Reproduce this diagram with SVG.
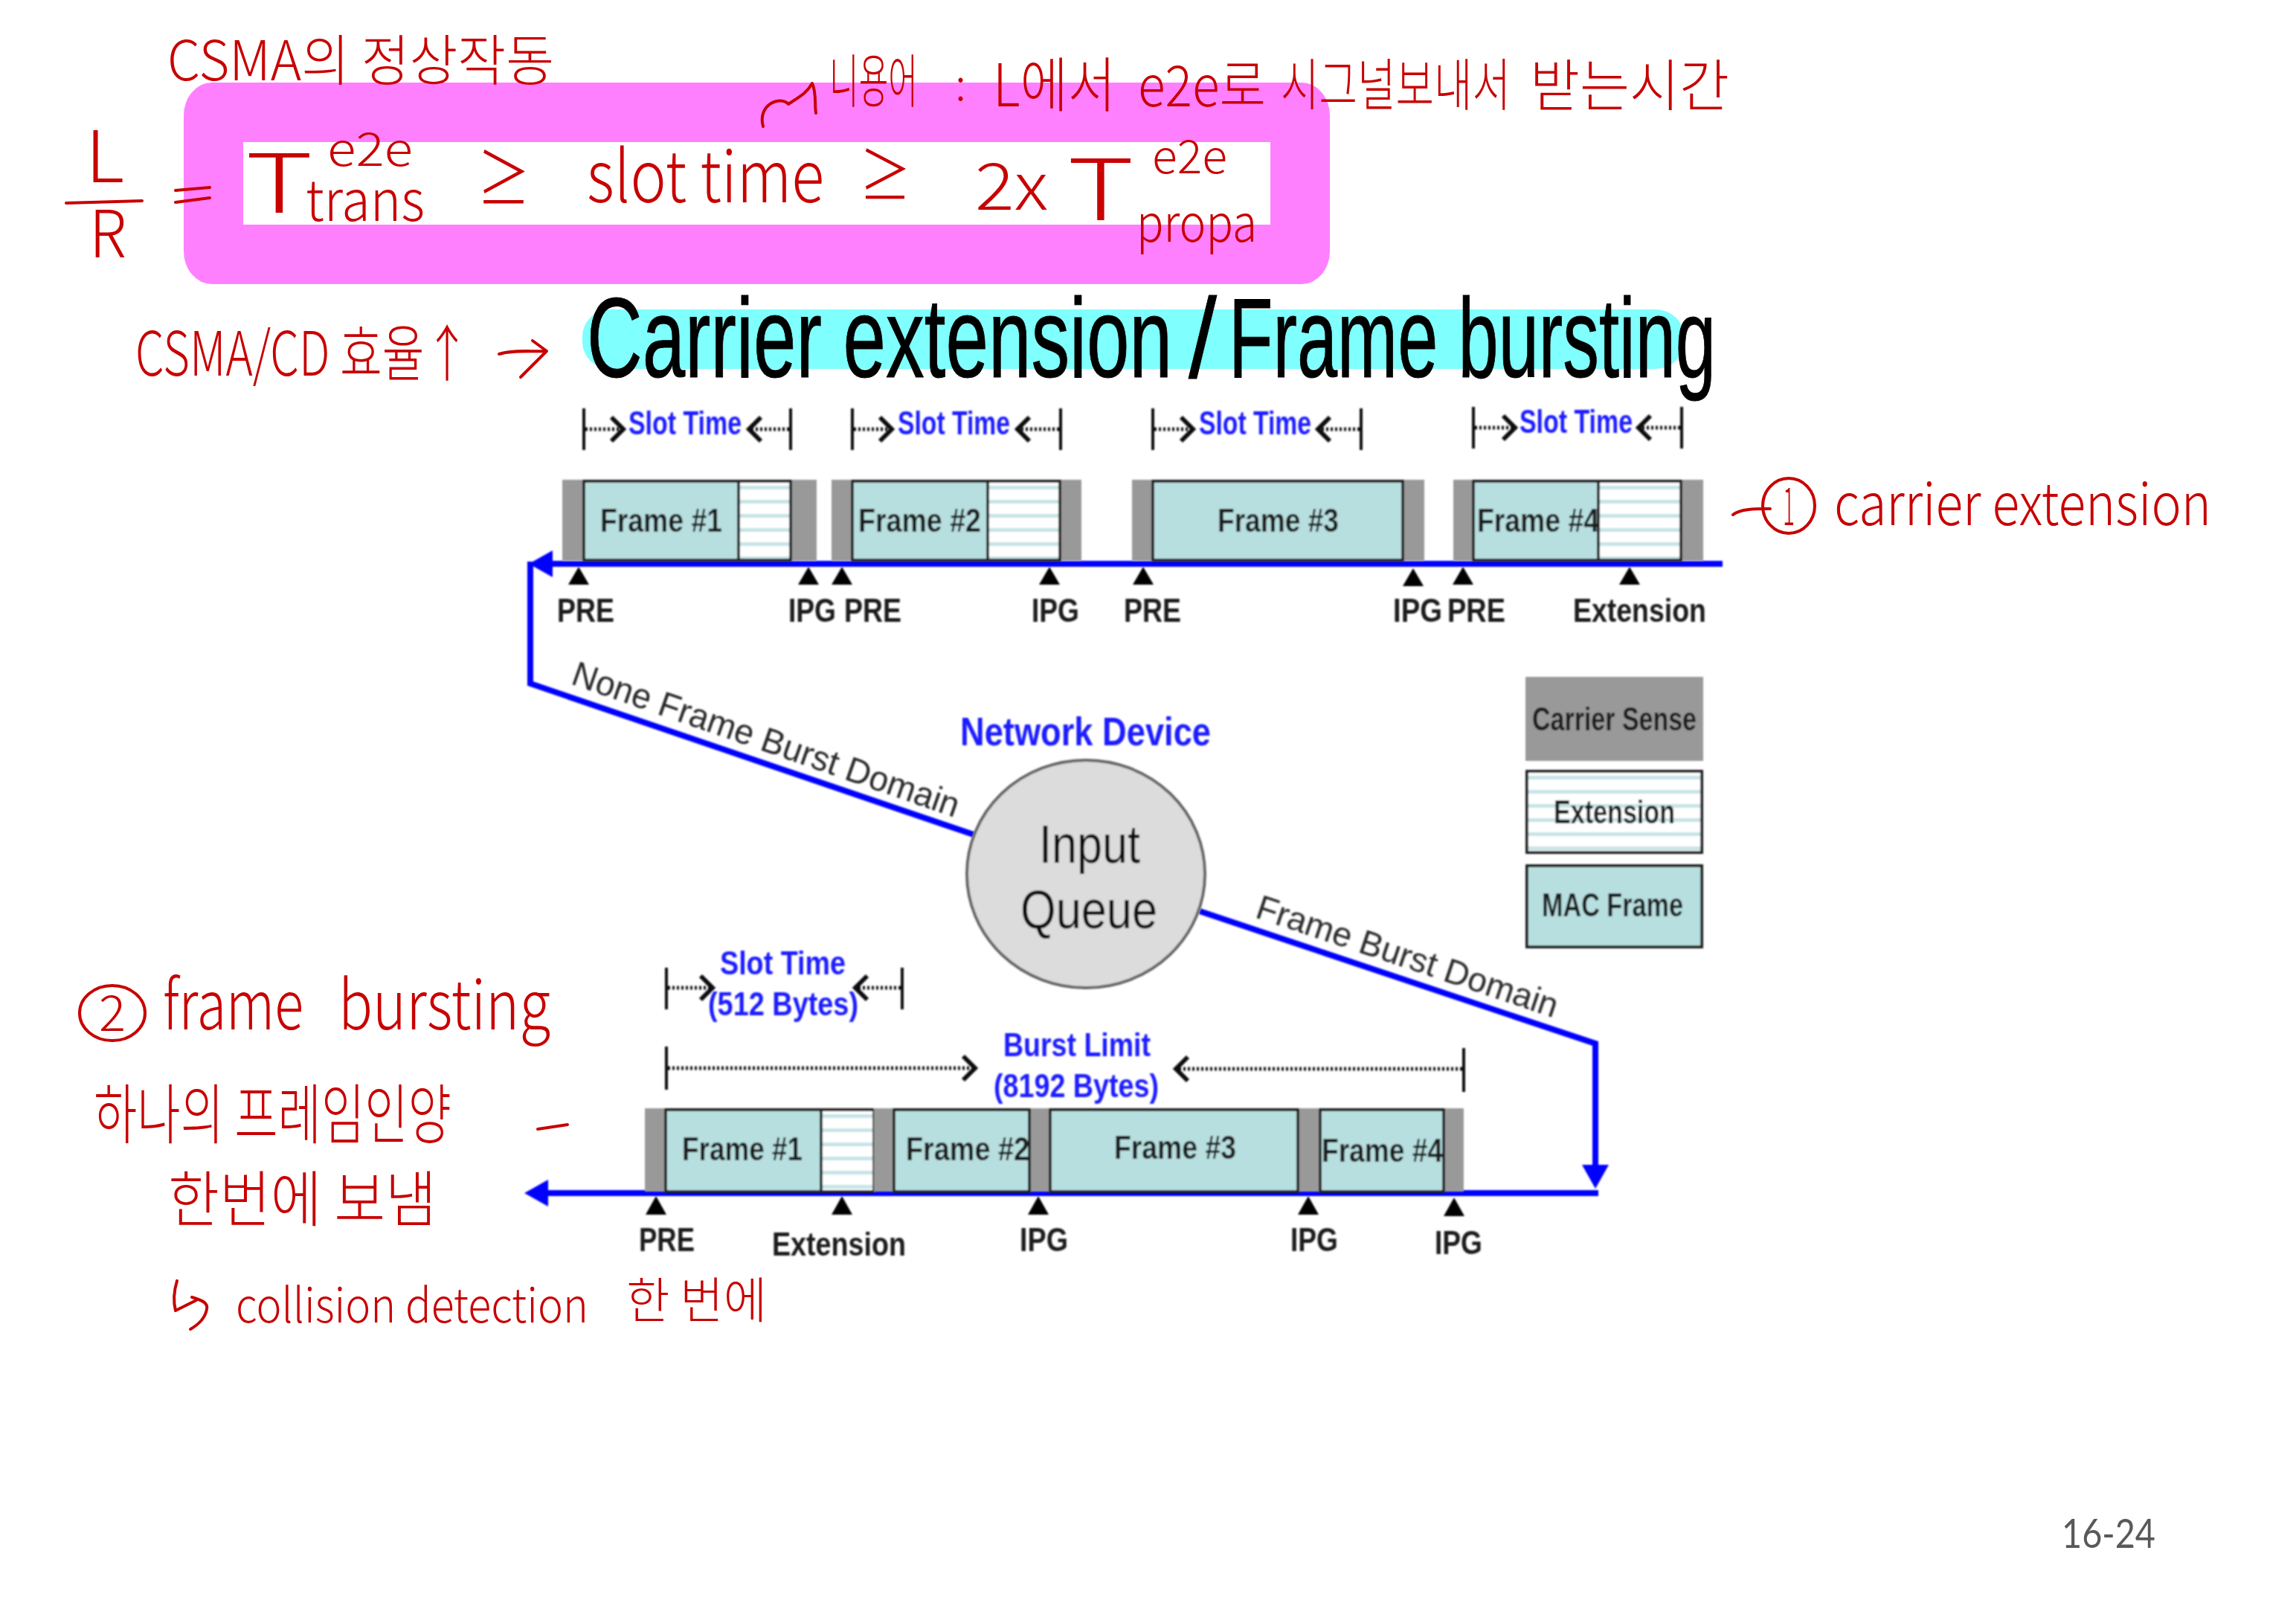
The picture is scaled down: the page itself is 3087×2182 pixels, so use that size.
<svg xmlns="http://www.w3.org/2000/svg" width="3087" height="2182" viewBox="0 0 3087 2182">
<style>
text{font-family:"Liberation Sans",Arial,sans-serif}
.lb{font-weight:bold;font-size:44px;fill:#1c1c1c}
.blue{font-weight:bold;font-size:44px;fill:#1c1cff}
.rot{font-size:47px;fill:#2a2a2a}
.big{font-size:72px;fill:#111}
.hw{font-family:"Noto Sans CJK KR","Noto Sans",sans-serif;font-weight:300;fill:#c80000}
.thin{font-weight:200}
.ttl{font-size:152px;fill:#000;stroke:#000;stroke-width:1}
.no{font-family:Lato,"Open Sans",sans-serif;font-size:54px;fill:#595959}
.g{fill:#999}
.f{fill:#b8dfe0;stroke:#222;stroke-width:4}
.x{fill:url(#stripes);stroke:#222;stroke-width:4}
.tri{fill:#000}
.wire{fill:none;stroke:#0000ff;stroke-width:8}
.tick{stroke:#111;stroke-width:4;fill:none}
.dot{stroke:#111;stroke-width:5;stroke-dasharray:3 3;fill:none;marker-end:url(#chev)}
.ink{fill:none;stroke:#c80000;stroke-width:4;stroke-linecap:round;stroke-linejoin:round}
.soft{filter:url(#soft)}
</style>
<defs>
<filter id="soft" x="-5%" y="-5%" width="110%" height="110%"><feGaussianBlur stdDeviation="0.9"/></filter>
<pattern id="stripes" patternUnits="userSpaceOnUse" width="19" height="19"><rect width="19" height="19" fill="#fff"/><rect y="6" width="19" height="5" fill="#c6e4e6"/></pattern>
<marker id="chev" markerUnits="userSpaceOnUse" markerWidth="30" markerHeight="40" viewBox="-20 -20 30 40" refX="0" refY="0" orient="auto" overflow="visible"><path d="M-16,-16 L0,0 L-16,16" fill="none" stroke="#111" stroke-width="6"/></marker>
<marker id="head" markerUnits="userSpaceOnUse" markerWidth="40" markerHeight="40" viewBox="-14 -20 40 40" refX="0" refY="0" orient="auto" overflow="visible"><path d="M-12,-18 L20,0 L-12,18z" fill="#0000ff"/></marker>
</defs>
<rect width="3087" height="2182" fill="#fff"/>

<g id="highlights">
<rect x="247" y="111" width="1541" height="271" rx="38" ry="44" fill="#ff80ff"/>
<rect x="327" y="191" width="1381" height="111" fill="#fff"/>
<rect x="783" y="416" width="1481" height="80" rx="38" ry="36" fill="#80ffff"/>
</g>

<g id="connectors" class="soft">
<path class="wire" d="M2316,758 H731" marker-end="url(#head)"/>
<path class="wire" d="M713,755 V919 L1309,1122"/>
<path class="wire" d="M1613,1225 L2145,1403 V1578" marker-end="url(#head)"/>
<path class="wire" d="M2149,1604 H725" marker-end="url(#head)"/>
</g>

<g id="slot-brackets" class="soft">
<path class="tick" d="M785,549 V605 M1063,549 V605 M1146,549 V605 M1426,549 V605 M1550,549 V605 M1830,549 V605 M1981,547 V603 M2261,547 V603 M896,1301 V1357 M1213,1301 V1357 M896,1407 V1465 M1968,1409 V1468"/>
<path class="dot" d="M787,577 H838"/><path class="dot" d="M1061,577 H1007"/>
<path class="dot" d="M1148,577 H1199"/><path class="dot" d="M1424,577 H1368"/>
<path class="dot" d="M1552,577 H1604"/><path class="dot" d="M1828,577 H1772"/>
<path class="dot" d="M1983,575 H2037"/><path class="dot" d="M2259,575 H2203"/>
<path class="dot" d="M898,1328 H958"/><path class="dot" d="M1211,1328 H1150"/>
<path class="dot" d="M898,1436 H1311"/><path class="dot" d="M1966,1437 H1581"/>
<text class="blue" x="845" y="584" textLength="152" lengthAdjust="spacingAndGlyphs">Slot Time</text>
<text class="blue" x="1207" y="584" textLength="151" lengthAdjust="spacingAndGlyphs">Slot Time</text>
<text class="blue" x="1612" y="584" textLength="151" lengthAdjust="spacingAndGlyphs">Slot Time</text>
<text class="blue" x="2043" y="582" textLength="152" lengthAdjust="spacingAndGlyphs">Slot Time</text>
<text class="blue" x="968" y="1310" textLength="169" lengthAdjust="spacingAndGlyphs">Slot Time</text>
<text class="blue" x="952" y="1365" textLength="202" lengthAdjust="spacingAndGlyphs">(512 Bytes)</text>
<text class="blue" x="1349" y="1420" textLength="198" lengthAdjust="spacingAndGlyphs">Burst Limit</text>
<text class="blue" x="1336" y="1475" textLength="222" lengthAdjust="spacingAndGlyphs">(8192 Bytes)</text>
</g>

<g id="upper-frames" class="soft">
<g id="u1"><rect class="g" x="756" y="645" width="342" height="109"/><rect class="f" x="785" y="647" width="208" height="106"/><rect class="x" transform="translate(993,647)" width="70" height="106"/><text class="lb" x="807" y="715" textLength="164" lengthAdjust="spacingAndGlyphs">Frame #1</text></g>
<g id="u2"><rect class="g" x="1118" y="645" width="336" height="109"/><rect class="f" x="1146" y="647" width="182" height="106"/><rect class="x" transform="translate(1328,647)" width="97" height="106"/><text class="lb" x="1154" y="715" textLength="165" lengthAdjust="spacingAndGlyphs">Frame #2</text></g>
<g id="u3"><rect class="g" x="1522" y="645" width="393" height="109"/><rect class="f" x="1550" y="647" width="336" height="106"/><text class="lb" x="1637" y="715" textLength="163" lengthAdjust="spacingAndGlyphs">Frame #3</text></g>
<g id="u4"><rect class="g" x="1954" y="645" width="336" height="109"/><rect class="f" x="1981" y="647" width="168" height="106"/><rect class="x" transform="translate(2149,647)" width="111" height="106"/><text class="lb" x="1986" y="715" textLength="164" lengthAdjust="spacingAndGlyphs">Frame #4</text></g>
<path class="tri" d="M778,762l14,24h-28z M1087,762l14,24h-28z M1132,762l14,24h-28z M1411,762l14,24h-28z M1537,762l14,24h-28z M1900,764l14,24h-28z M1967,762l14,24h-28z M2191,762l14,24h-28z"/>
<text class="lb" x="749" y="836" textLength="77" lengthAdjust="spacingAndGlyphs">PRE</text>
<text class="lb" x="1060" y="836" textLength="64" lengthAdjust="spacingAndGlyphs">IPG</text>
<text class="lb" x="1135" y="836" textLength="77" lengthAdjust="spacingAndGlyphs">PRE</text>
<text class="lb" x="1387" y="836" textLength="64" lengthAdjust="spacingAndGlyphs">IPG</text>
<text class="lb" x="1511" y="836" textLength="77" lengthAdjust="spacingAndGlyphs">PRE</text>
<text class="lb" x="1873" y="836" textLength="66" lengthAdjust="spacingAndGlyphs">IPG</text>
<text class="lb" x="1946" y="836" textLength="78" lengthAdjust="spacingAndGlyphs">PRE</text>
<text class="lb" x="2115" y="836" textLength="179" lengthAdjust="spacingAndGlyphs">Extension</text>
</g>

<g id="lower-frames" class="soft">
<g id="l1"><rect class="g" x="867" y="1490" width="308" height="112"/><rect class="f" x="895" y="1492" width="209" height="110"/><rect class="x" transform="translate(1104,1492)" width="71" height="110"/><text class="lb" x="917" y="1560" textLength="162" lengthAdjust="spacingAndGlyphs">Frame #1</text></g>
<g id="l2"><rect class="g" x="1175" y="1490" width="235" height="112"/><rect class="f" x="1202" y="1492" width="182" height="110"/><text class="lb" x="1218" y="1560" textLength="166" lengthAdjust="spacingAndGlyphs">Frame #2</text></g>
<g id="l3"><rect class="g" x="1410" y="1490" width="363" height="112"/><rect class="f" x="1412" y="1492" width="333" height="110"/><text class="lb" x="1498" y="1558" textLength="164" lengthAdjust="spacingAndGlyphs">Frame #3</text></g>
<g id="l4"><rect class="g" x="1773" y="1490" width="195" height="112"/><rect class="f" x="1775" y="1492" width="166" height="110"/><text class="lb" x="1777" y="1562" textLength="163" lengthAdjust="spacingAndGlyphs">Frame #4</text></g>
<path class="tri" d="M882,1608l14,25h-28z M1132,1608l14,25h-28z M1396,1608l14,25h-28z M1759,1608l14,25h-28z M1955,1610l14,25h-28z"/>
<text class="lb" x="859" y="1682" textLength="75" lengthAdjust="spacingAndGlyphs">PRE</text>
<text class="lb" x="1038" y="1688" textLength="180" lengthAdjust="spacingAndGlyphs">Extension</text>
<text class="lb" x="1371" y="1682" textLength="65" lengthAdjust="spacingAndGlyphs">IPG</text>
<text class="lb" x="1735" y="1682" textLength="64" lengthAdjust="spacingAndGlyphs">IPG</text>
<text class="lb" x="1929" y="1686" textLength="64" lengthAdjust="spacingAndGlyphs">IPG</text>
</g>

<g id="input-queue" class="soft">
<ellipse cx="1460" cy="1175" rx="160" ry="153" fill="#dcdcdc" stroke="#666" stroke-width="4"/>
<text class="big" x="1397" y="1160" textLength="136" lengthAdjust="spacingAndGlyphs">Input</text>
<text class="big" x="1372" y="1248" textLength="184" lengthAdjust="spacingAndGlyphs">Queue</text>
</g>
<g id="network-device" class="soft"><text class="blue" style="font-size:54px" x="1291" y="1002" textLength="337" lengthAdjust="spacingAndGlyphs">Network Device</text></g>
<g id="domain-labels" class="soft">
<text class="rot" transform="translate(766,919) rotate(19.2)" textLength="548" lengthAdjust="spacingAndGlyphs">None Frame Burst Domain</text>
<text class="rot" transform="translate(1686,1233) rotate(18.6)" textLength="425" lengthAdjust="spacingAndGlyphs">Frame Burst Domain</text>
</g>

<g id="legend" class="soft">
<g id="legend-carrier"><rect class="g" x="2051" y="910" width="239" height="113"/><text class="lb" x="2060" y="982" textLength="221" lengthAdjust="spacingAndGlyphs">Carrier Sense</text></g>
<g id="legend-extension"><rect class="x" transform="translate(2053,1037)" width="235" height="109"/><text class="lb" x="2089" y="1107" textLength="163" lengthAdjust="spacingAndGlyphs">Extension</text></g>
<g id="legend-mac"><rect class="f" x="2053" y="1164" width="235" height="109"/><text class="lb" x="2073" y="1232" textLength="190" lengthAdjust="spacingAndGlyphs">MAC Frame</text></g>
</g>

<g id="title">
<text class="ttl" x="789" y="507" textLength="787" lengthAdjust="spacingAndGlyphs">Carrier extension</text>
<text class="ttl" x="1598" y="507" textLength="38" lengthAdjust="spacingAndGlyphs">/</text>
<text class="ttl" x="1652" y="507" textLength="655" lengthAdjust="spacingAndGlyphs">Frame bursting</text>
</g>

<g id="notes">
<text class="hw" font-size="74" x="225" y="108" textLength="520" lengthAdjust="spacingAndGlyphs">CSMA의 정상작동</text>
<path class="ink" d="M1026,170 C1018,140 1050,128 1060,140 C1075,130 1085,125 1092,112 C1098,125 1095,140 1097,152"/>
<text class="hw" font-size="78" x="1115" y="138" textLength="119" lengthAdjust="spacingAndGlyphs">니용어</text>
<text class="hw" font-size="60" x="1284" y="135">:</text>
<text class="hw" font-size="80" x="1335" y="143" textLength="165" lengthAdjust="spacingAndGlyphs">L에서</text>
<text class="hw" font-size="76" x="1530" y="143" textLength="172" lengthAdjust="spacingAndGlyphs">e2e로</text>
<text class="hw" font-size="76" x="1722" y="142" textLength="309" lengthAdjust="spacingAndGlyphs">시그널보내서</text>
<text class="hw" font-size="76" x="2057" y="143" textLength="268" lengthAdjust="spacingAndGlyphs">받는시간</text>

<text class="hw thin" font-size="96" x="115" y="245" textLength="52" lengthAdjust="spacingAndGlyphs">L</text>
<path class="ink" d="M89,273 L191,270 M236,256 L282,252 M236,272 L282,266"/>
<text class="hw thin" font-size="88" x="120" y="346" textLength="50" lengthAdjust="spacingAndGlyphs">R</text>
<text class="hw thin" font-size="110" x="330" y="286" textLength="91" lengthAdjust="spacingAndGlyphs">T</text>
<text class="hw" font-size="62" x="440" y="223" textLength="115" lengthAdjust="spacingAndGlyphs">e2e</text>
<text class="hw" font-size="76" x="411" y="297" textLength="160" lengthAdjust="spacingAndGlyphs">trans</text>
<text class="hw" font-size="96" x="641" y="276" textLength="72" lengthAdjust="spacingAndGlyphs">≥</text>
<text class="hw" font-size="96" x="789" y="272" textLength="319" lengthAdjust="spacingAndGlyphs">slot time</text>
<text class="hw" font-size="90" x="1155" y="270" textLength="70" lengthAdjust="spacingAndGlyphs">≥</text>
<text class="hw" font-size="88" x="1311" y="282" textLength="98" lengthAdjust="spacingAndGlyphs">2x</text>
<text class="hw thin" font-size="114" x="1435" y="296" textLength="90" lengthAdjust="spacingAndGlyphs">T</text>
<text class="hw" font-size="62" x="1549" y="233" textLength="101" lengthAdjust="spacingAndGlyphs">e2e</text>
<text class="hw" font-size="70" x="1528" y="325" textLength="162" lengthAdjust="spacingAndGlyphs">propa</text>

<text class="hw" font-size="82" x="182" y="505" textLength="450" lengthAdjust="spacingAndGlyphs">CSMA/CD 효율↑</text>
<path class="ink" d="M671,476 C690,470 715,473 734,472 M716,458 L735,472 L700,507"/>

<path class="ink" d="M2330,692 C2340,684 2360,684 2380,684"/>
<ellipse class="ink" cx="2405" cy="680" rx="35" ry="37"/>
<text class="hw" font-size="70" x="2397" y="706" textLength="16" lengthAdjust="spacingAndGlyphs">1</text>
<text class="hw" font-size="78" x="2466" y="706" textLength="507" lengthAdjust="spacingAndGlyphs">carrier extension</text>

<ellipse class="ink" cx="151" cy="1362" rx="44" ry="37"/>
<text class="hw" font-size="66" x="133" y="1386" textLength="36" lengthAdjust="spacingAndGlyphs">2</text>
<text class="hw" font-size="92" x="219" y="1384" textLength="189" lengthAdjust="spacingAndGlyphs">frame</text>
<text class="hw" font-size="92" x="455" y="1384" textLength="285" lengthAdjust="spacingAndGlyphs">bursting</text>
<text class="hw" font-size="88" x="126" y="1530" textLength="481" lengthAdjust="spacingAndGlyphs">하나의 프레임인양</text>
<path class="ink" d="M723,1518 L763,1512"/>
<text class="hw" font-size="82" x="226" y="1642" textLength="361" lengthAdjust="spacingAndGlyphs">한번에 보냄</text>
<path class="ink" d="M238,1722 C234,1735 233,1750 236,1762 L264,1748 M258,1744 C272,1748 280,1752 278,1760 C276,1772 268,1780 256,1787"/>
<text class="hw" font-size="64" x="317" y="1778" textLength="474" lengthAdjust="spacingAndGlyphs">collision detection</text>
<text class="hw" font-size="66" x="842" y="1772" textLength="189" lengthAdjust="spacingAndGlyphs">한 번에</text>
</g>

<g id="page-number"><text class="no" x="2772" y="2081" textLength="126" lengthAdjust="spacingAndGlyphs">16-24</text></g>
</svg>
